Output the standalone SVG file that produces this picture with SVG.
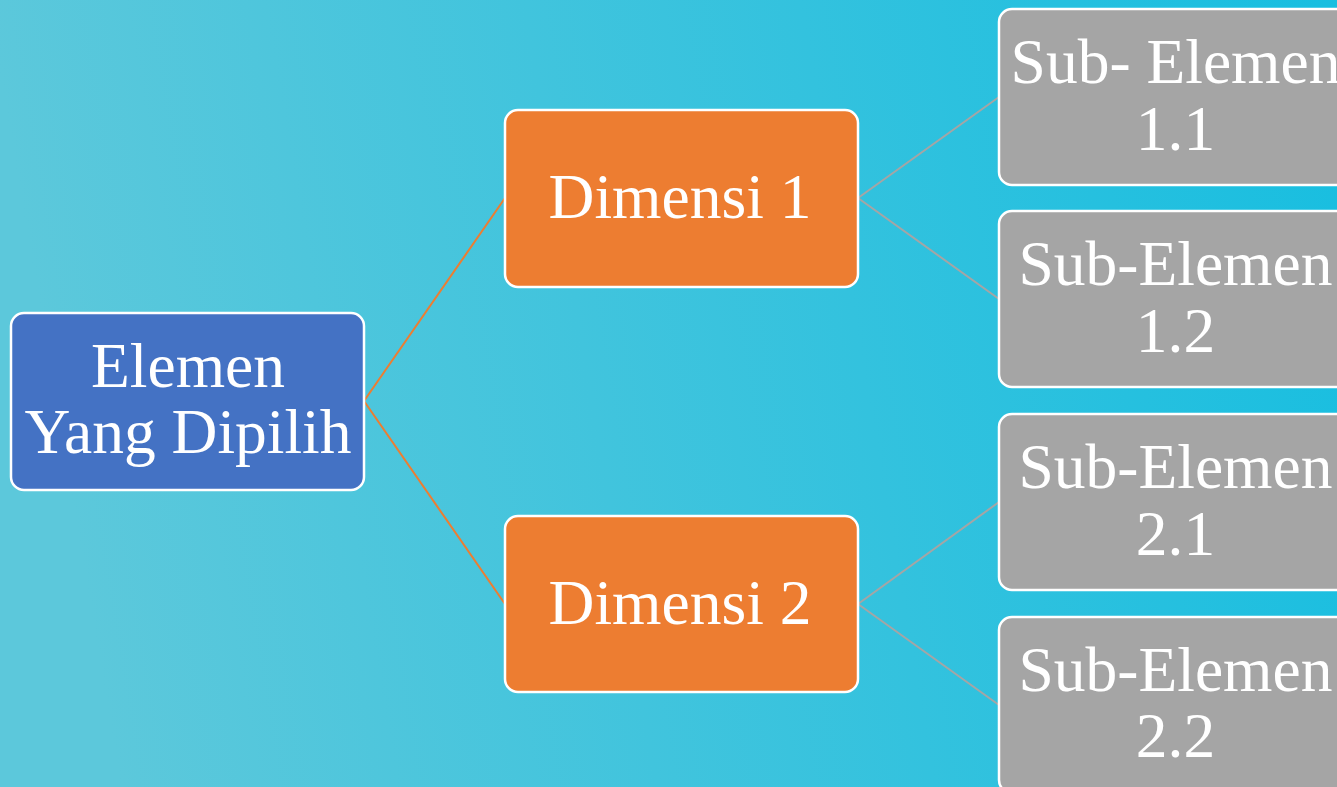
<svg xmlns="http://www.w3.org/2000/svg" width="1337" height="787" viewBox="0 0 1337 787">
<style>
.node{stroke:#ffffff;stroke-width:2.5}
.root{fill:#4472C4}
.dim{fill:#ED7D31}
.sub{fill:#A5A5A5}
.lbl{font-family:"Liberation Serif","Times New Roman",serif;font-size:63.5px;fill:#ffffff;text-anchor:middle}
.c1{stroke:#ED7D31;stroke-width:2;fill:none}
.c2{stroke:#A5A5A5;stroke-width:2;fill:none}
</style>
<defs>
<linearGradient id="bg" x1="0" y1="0.1" x2="1" y2="0">
<stop offset="0" stop-color="#5CC8DB"/>
<stop offset="1" stop-color="#18BEE0"/>
</linearGradient>
</defs>
<rect x="0" y="0" width="1337" height="787" fill="url(#bg)"/>
<g id="connectors">
<path class="c1" d="M364,401 L505,198"/>
<path class="c1" d="M364,401 L505,604"/>
<path class="c2" d="M858,198 L999,97"/>
<path class="c2" d="M858,198 L999,299"/>
<path class="c2" d="M858,604 L999,502"/>
<path class="c2" d="M858,604 L999,705"/>
</g>
<g id="root">
<rect class="node root" x="11" y="313" width="353" height="177" rx="13"/>
<text class="lbl" x="188" y="387">Elemen</text>
<text class="lbl" x="188" y="453">Yang Dipilih</text>
</g>
<g id="dim1">
<rect class="node dim" x="505" y="110" width="353" height="177" rx="13"/>
<text class="lbl" x="680" y="218">Dimensi 1</text>
</g>
<g id="dim2">
<rect class="node dim" x="505" y="516" width="353" height="176" rx="13"/>
<text class="lbl" x="680" y="624">Dimensi 2</text>
</g>
<g id="sub11">
<rect class="node sub" x="999" y="9" width="353" height="176" rx="13"/>
<text class="lbl" x="1175.5" y="83">Sub- Elemen</text>
<text class="lbl" x="1175.5" y="150">1.1</text>
</g>
<g id="sub12">
<rect class="node sub" x="999" y="211" width="353" height="176" rx="13"/>
<text class="lbl" x="1175.5" y="285">Sub-Elemen</text>
<text class="lbl" x="1175.5" y="352">1.2</text>
</g>
<g id="sub21">
<rect class="node sub" x="999" y="414" width="353" height="176" rx="13"/>
<text class="lbl" x="1175.5" y="488">Sub-Elemen</text>
<text class="lbl" x="1175.5" y="555">2.1</text>
</g>
<g id="sub22">
<rect class="node sub" x="999" y="617" width="353" height="176" rx="13"/>
<text class="lbl" x="1175.5" y="691">Sub-Elemen</text>
<text class="lbl" x="1175.5" y="757">2.2</text>
</g>
</svg>
